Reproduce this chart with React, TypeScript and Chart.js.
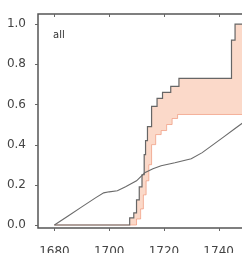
import React, { useEffect, useRef } from "react";
import { Chart, registerables } from "chart.js";

Chart.register(...registerables);

// Tick values
const xTicks = [1680, 1700, 1720, 1740];
const yTicks = [0, 0.2, 0.4, 0.6, 0.8, 1.0];
const panelLabel = "all";

// Grey rising curve
const curveYears = [1680, 1685, 1690, 1695, 1698, 1700, 1703, 1706, 1710, 1713, 1716, 1719, 1724, 1730, 1734, 1738, 1742, 1746, 1750];
const curveValues = [0.0, 0.045, 0.09, 0.135, 0.16, 0.165, 0.17, 0.19, 0.22, 0.26, 0.28, 0.295, 0.31, 0.33, 0.36, 0.4, 0.44, 0.48, 0.52];

// Upper step line (dark)
const upperYears = [1680, 1707.5, 1709, 1710, 1711, 1712, 1712.8, 1713.3, 1714, 1715.5, 1717.5, 1719.5, 1722.5, 1725.5, 1744.7, 1746, 1750];
const upperValues = [0, 0.035, 0.06, 0.125, 0.19, 0.25, 0.35, 0.42, 0.49, 0.59, 0.63, 0.66, 0.69, 0.73, 0.92, 1.0, 1.0];

// Lower step line (band bottom)
const lowerYears = [1680, 1710, 1711.5, 1712.5, 1713.5, 1714.5, 1715.5, 1717, 1719, 1721, 1723, 1725, 1750];
const lowerValues = [0, 0.03, 0.08, 0.15, 0.22, 0.3, 0.4, 0.45, 0.47, 0.5, 0.53, 0.55, 0.55];

const pts = (xs: number[], ys: number[]) => xs.map((x, i) => ({ x, y: ys[i] }));

export default function App() {
  const ref = useRef<HTMLCanvasElement | null>(null);

  useEffect(() => {
    document.body.style.margin = "0";
    document.body.style.overflow = "hidden";
    Chart.defaults.font.family = "'DejaVu Sans', sans-serif";
    const canvas = ref.current;
    if (!canvas) return;

    const frame = {
      id: "frame",
      afterDraw(chart: any) {
        const { ctx, chartArea } = chart;
        const { left, right, top, bottom } = chartArea;
        const xs = chart.scales.x;
        const ys = chart.scales.y;
        ctx.save();
        ctx.strokeStyle = "#555";
        ctx.lineWidth = 1.5;
        ctx.beginPath();
        ctx.moveTo(right, top);
        ctx.lineTo(left, top);
        ctx.lineTo(left, bottom);
        ctx.lineTo(right, bottom);
        ctx.stroke();
        ctx.lineWidth = 1;
        ctx.strokeStyle = "#666";
        ctx.beginPath();
        for (const v of xTicks) {
          const px = Math.round(xs.getPixelForValue(v)) + 0.5;
          ctx.moveTo(px, bottom);
          ctx.lineTo(px, bottom + 3);
          ctx.moveTo(px, top);
          ctx.lineTo(px, top + 3);
        }
        for (const v of yTicks) {
          const py = Math.round(ys.getPixelForValue(v)) + 0.5;
          ctx.moveTo(left, py);
          ctx.lineTo(left - 3, py);
        }
        ctx.stroke();
        ctx.fillStyle = "#333";
        ctx.font = "10px 'DejaVu Sans', sans-serif";
        ctx.textBaseline = "middle";
        ctx.fillText(panelLabel, 53, 35);
        ctx.restore();
      },
    };

    const chart = new Chart(canvas, {
      type: "line",
      data: {
        datasets: [
          {
            data: pts(curveYears, curveValues),
            borderColor: "#6a6a6a",
            borderWidth: 1.1,
            pointRadius: 0,
            fill: false,
            tension: 0,
          },
          {
            data: pts(upperYears, upperValues),
            borderColor: "#666",
            borderWidth: 1.2,
            pointRadius: 0,
            stepped: "before",
            fill: "+1",
            backgroundColor: "rgba(245,160,120,0.4)",
          },
          {
            data: pts(lowerYears, lowerValues),
            borderColor: "rgba(235,130,100,0.6)",
            borderWidth: 1,
            pointRadius: 0,
            stepped: "before",
            fill: false,
          },
        ],
      },
      options: {
        animation: false,
        responsive: false,
        devicePixelRatio: 1,
        layout: { padding: { top: 14, right: 4, left: 0, bottom: 0 } },
        plugins: { legend: { display: false }, tooltip: { enabled: false } },
        scales: {
          x: {
            type: "linear",
            min: 1674,
            max: 1750,
            grid: { display: false },
            border: { display: false },
            afterFit: (s: any) => {
              s.height = 25;
            },
            afterBuildTicks: (s: any) => {
              s.ticks = xTicks.map((v) => ({ value: v }));
            },
            ticks: {
              color: "#444",
              font: { size: 12 },
              padding: 9,
              maxRotation: 0,
              autoSkip: false,
              callback: (v: any) => String(v),
            },
          },
          y: {
            type: "linear",
            min: -0.015,
            max: 1.05,
            grid: { display: false },
            border: { display: false },
            afterFit: (s: any) => {
              s.width = 38;
            },
            afterBuildTicks: (s: any) => {
              s.ticks = yTicks.map((v) => ({ value: v }));
            },
            ticks: {
              color: "#444",
              font: { size: 12 },
              padding: 4,
              autoSkip: false,
              callback: (v: any) => Number(v).toFixed(1),
            },
          },
        },
      },
      plugins: [frame],
    });
    return () => chart.destroy();
  }, []);

  return (
    <div style={{ width: 242, height: 253, overflow: "hidden", background: "#fff" }}>
      <canvas ref={ref} width={250} height={253} style={{ display: "block" }} />
    </div>
  );
}
